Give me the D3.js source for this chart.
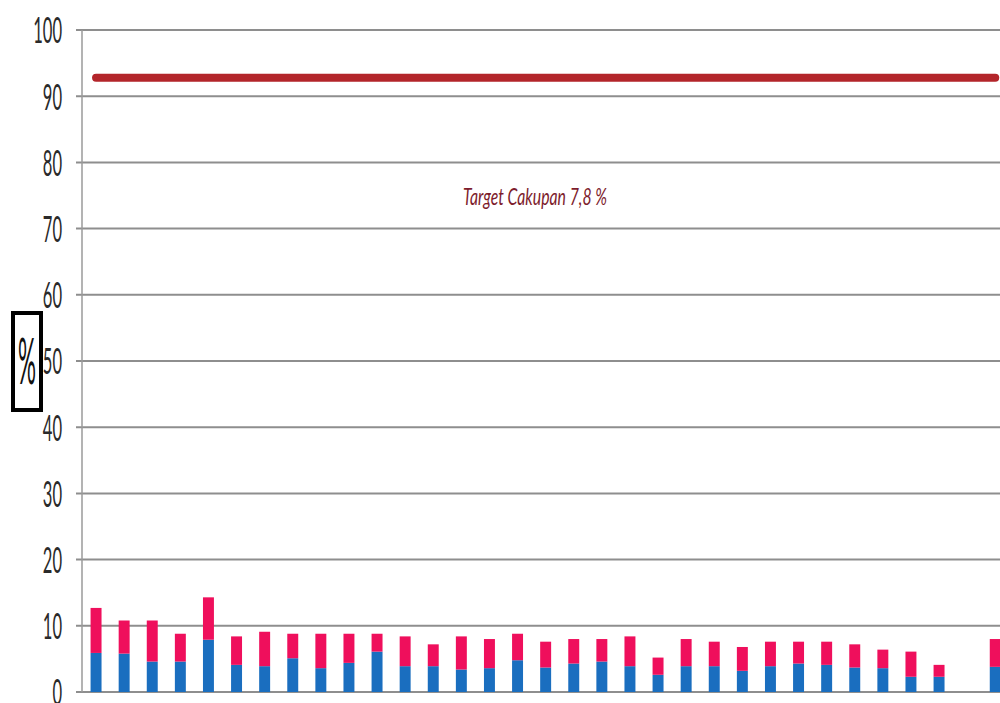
<!DOCTYPE html>
<html>
<head>
<meta charset="utf-8">
<script src="https://cdn.jsdelivr.net/npm/d3@7"></script>
<style>
  html, body { margin: 0; padding: 0; background: #ffffff; }
  svg { display: block; }
</style>
</head>
<body>
<svg id="chart" width="1000" height="703"></svg>
<script>
// ---- data ----
const categories = d3.range(1, 34).map(i => "Wilayah " + i);
const seriesBlue = [5.9, 5.8, 4.6, 4.6, 7.9, 4.1, 3.9, 5.1, 3.6, 4.4, 6.1, 3.9, 3.9, 3.4, 3.6, 4.8, 3.7, 4.3, 4.6, 3.9, 2.6,
                    3.9, 3.9, 3.2, 3.9, 4.3, 4.1, 3.7, 3.6, 2.3, 2.3, 0, 3.8];
const seriesTotal = [12.7, 10.8, 10.8, 8.8, 14.3, 8.4, 9.1, 8.8, 8.8, 8.8, 8.8, 8.4, 7.2, 8.4, 8.0, 8.8, 7.6, 8.0, 8.0, 8.4, 5.2,
                     8.0, 7.6, 6.8, 7.6, 7.6, 7.6, 7.2, 6.4, 6.1, 4.1, 0, 8.0];
const seriesPink = seriesTotal.map((t, i) => +(t - seriesBlue[i]).toFixed(1));
const targetValue = 92.8;
const targetLabel = "Target Cakupan 7,8 %";
const yTicks = [0, 10, 20, 30, 40, 50, 60, 70, 80, 90, 100];
const yAxisTitle = "%";

// ---- layout ----
const svg = d3.select("#chart");
const plotLeft = 82, plotTop = 30, plotBottom = 692;
const step = 28.1;
const x = d3.scaleBand().domain(categories).range([plotLeft, plotLeft + step * categories.length]).paddingInner(0.61).paddingOuter(0.305);
const y = d3.scaleLinear().domain([0, 100]).range([plotBottom, plotTop]);

// gridlines
svg.append("g").selectAll("line").data(yTicks).join("line")
  .attr("x1", 76).attr("x2", 1000)
  .attr("y1", d => y(d)).attr("y2", d => y(d))
  .attr("stroke", "#8e8e8e").attr("stroke-width", 2);

// vertical axis line
svg.append("line").attr("x1", plotLeft).attr("x2", plotLeft).attr("y1", y(100)).attr("y2", y(0))
  .attr("stroke", "#9a9a9a").attr("stroke-width", 1.5);

// y tick labels (narrow, tall digits)
const sx = 0.46;
const axis = d3.axisLeft(y).tickValues(yTicks).tickSize(0).tickFormat(d3.format("d"));
const ag = svg.append("g").attr("transform", `translate(${plotLeft},0)`).call(axis);
ag.select(".domain").remove();
ag.selectAll(".tick text")
  .attr("x", null).attr("dy", "0.36em")
  .attr("transform", `translate(-20,0) scale(${sx},1)`)
  .style("font-family", "Lato, 'Open Sans', sans-serif")
  .style("font-size", "36px")
  .style("fill", "#2a2a2a")
  .attr("text-anchor", "end");

// stacked bars
const stack = d3.stack().keys(["blue", "pink"]);
const rows = categories.map((c, i) => ({cat: c, blue: seriesBlue[i], pink: seriesPink[i]}));
const stacked = stack(rows);
const colors = {blue: "#1a6ebf", pink: "#ef0f5c"};
svg.append("g").selectAll("g").data(stacked).join("g")
  .attr("fill", d => colors[d.key])
  .selectAll("rect").data(d => d).join("rect")
  .attr("x", d => x(d.data.cat))
  .attr("width", x.bandwidth())
  .attr("y", d => y(d[1]))
  .attr("height", d => Math.max(0, y(d[0]) - y(d[1])));

// target line
const line = d3.line().x(d => x(d) + x.bandwidth() / 2).y(() => y(targetValue));
svg.append("path").datum(categories).attr("d", line)
  .attr("fill", "none").attr("stroke", "#b3252a").attr("stroke-width", 8).attr("stroke-linecap", "round");

// target label
svg.append("text").attr("x", 463).attr("y", 205)
  .attr("textLength", 144).attr("lengthAdjust", "spacingAndGlyphs")
  .style("font-family", "Lato, 'Open Sans', sans-serif").style("font-style", "italic")
  .style("font-size", "24px").style("fill", "#7d1c2c")
  .text(targetLabel);

// y axis title in box
svg.append("rect").attr("x", 13).attr("y", 313).attr("width", 28).attr("height", 97)
  .attr("fill", "none").attr("stroke", "#000").attr("stroke-width", 4);
svg.append("text").attr("x", 18).attr("y", 384)
  .attr("textLength", 18).attr("lengthAdjust", "spacingAndGlyphs")
  .style("font-family", "Lato, 'Open Sans', sans-serif").style("font-size", "64px").style("fill", "#111")
  .text(yAxisTitle);
</script>
</body>
</html>
